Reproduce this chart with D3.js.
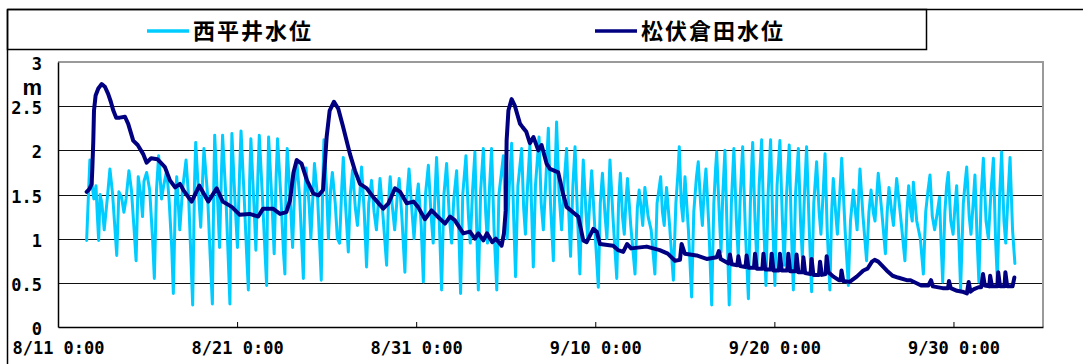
<!DOCTYPE html>
<html>
<head>
<meta charset="utf-8">
<script src="https://cdn.jsdelivr.net/npm/d3@7"></script>
<style>
  body { margin: 0; background: #fff; }
  svg { display: block; }
</style>
</head>
<body>
<svg id="chart" width="1083" height="364"></svg>
<script>
// ---- data ----------------------------------------------------------------
const seriesNames = ["西平井水位", "松伏倉田水位"];
const startDate = new Date(2007, 7, 11, 0, 0);   // 8/11 0:00
const spanDays = 55;

const yTicks = [0, 0.5, 1, 1.5, 2, 2.5, 3];
const yTickLabels = ["0", "0.5", "1", "1.5", "2", "2.5", "3"];
const xTickDays = [0, 10, 20, 30, 40, 50];
const xTickLabels = ["8/11 0:00", "8/21 0:00", "8/31 0:00", "9/10 0:00", "9/20 0:00", "9/30 0:00"];
const unitLabel = "m";

// 西平井 water level (tidal) [days since 8/11 0:00, m]
const nishihiraiLevel = [
  [1.60,0.98],[1.70,1.50],[1.78,1.89],[1.90,1.62],[2.00,1.45],[2.12,1.60],[2.20,1.25],
  [2.27,0.98],[2.35,1.50],[2.45,1.40],[2.58,1.10],[2.75,1.45],[2.90,1.79],[3.05,1.50],[3.15,1.20],
  [3.28,0.81],[3.40,1.53],[3.55,1.47],[3.68,1.30],[3.80,1.45],[3.96,1.77],[4.10,1.55],[4.25,1.10],
  [4.36,0.75],[4.48,1.70],[4.62,1.50],[4.72,1.25],[4.80,1.65],[4.95,1.75],[5.12,1.55],[5.28,1.00],
  [5.38,0.55],[5.50,1.55],[5.62,1.94],[5.78,1.45],[5.90,1.60],[6.07,1.77],[6.20,1.45],[6.35,0.90],
  [6.44,0.38],[6.55,1.40],[6.63,1.70],[6.80,1.10],[6.95,1.55],[7.15,1.89],[7.30,1.45],[7.42,0.80],
  [7.52,0.25],[7.62,1.60],[7.69,2.09],[7.85,1.50],[7.97,1.13],[8.08,1.70],[8.15,2.02],[8.35,1.50],[8.52,0.70],
  [8.62,0.26],[8.70,1.60],[8.75,2.17],[8.92,1.40],[9.02,0.90],[9.12,1.70],[9.19,2.17],[9.38,1.45],[9.52,0.70],
  [9.60,0.26],[9.66,1.60],[9.71,2.19],[9.90,1.35],[10.02,0.90],[10.14,1.75],[10.22,2.22],[10.40,1.45],[10.55,0.75],
  [10.63,0.42],[10.70,1.65],[10.77,2.13],[10.95,1.35],[11.05,0.87],[11.16,1.70],[11.24,2.17],[11.42,1.45],[11.57,0.80],
  [11.65,0.47],[11.71,1.65],[11.76,2.15],[11.95,1.40],[12.07,0.83],[12.18,1.70],[12.26,2.13],[12.45,1.45],[12.59,0.85],
  [12.67,0.60],[12.73,1.60],[12.80,2.02],[12.98,1.40],[13.10,0.90],[13.22,1.60],[13.33,1.89],[13.50,1.45],[13.62,0.90],
  [13.70,0.55],[13.78,1.50],[13.85,1.80],[14.02,1.40],[14.12,1.00],[14.25,1.55],[14.32,1.85],[14.50,1.45],[14.62,0.90],
  [14.70,0.53],[14.78,1.60],[14.85,2.12],[15.00,1.55],[15.10,1.00],[15.22,1.55],[15.32,1.75],[15.48,1.40],[15.60,1.00],
  [15.72,0.95],[15.85,1.60],[15.93,1.92],[16.05,1.40],[16.21,0.85],[16.32,1.50],[16.45,1.78],[16.60,1.35],
  [16.72,1.15],[16.85,1.50],[16.95,1.81],[17.10,1.30],[17.23,0.68],[17.35,1.40],[17.51,1.66],[17.65,1.30],
  [17.78,1.10],[17.90,1.45],[17.98,1.68],[18.15,1.25],[18.35,0.70],[18.45,1.40],[18.55,1.70],[18.65,1.40],
  [18.80,1.10],[18.95,1.50],[19.05,1.68],[19.20,1.25],[19.37,0.62],[19.48,1.45],[19.60,1.79],[19.75,1.35],
  [19.88,1.00],[20.02,1.45],[20.12,1.62],[20.28,1.15],[20.40,0.51],[20.52,1.50],[20.68,1.83],[20.82,1.30],
  [20.95,0.95],[21.05,1.50],[21.14,1.92],[21.28,1.25],[21.42,0.42],[21.55,1.50],[21.70,1.85],[21.85,1.25],
  [21.98,0.95],[22.10,1.45],[22.26,1.77],[22.38,1.10],[22.48,0.38],[22.60,1.50],[22.78,1.94],[22.92,1.25],
  [23.02,0.95],[23.15,1.55],[23.28,1.98],[23.38,1.10],[23.47,0.42],[23.60,1.55],[23.75,2.02],[23.88,1.30],
  [23.98,0.95],[24.10,1.60],[24.21,2.02],[24.35,1.10],[24.50,0.42],[24.62,1.50],[24.87,1.94],[24.98,1.30],
  [25.08,1.00],[25.20,1.60],[25.33,2.08],[25.45,1.20],[25.55,0.57],[25.68,1.60],[25.89,2.02],[26.00,1.35],
  [26.10,1.05],[26.22,1.60],[26.35,2.06],[26.45,1.30],[26.54,0.68],[26.66,1.60],[26.86,2.15],[26.98,1.40],
  [27.10,1.10],[27.25,1.70],[27.38,2.25],[27.50,1.40],[27.66,0.75],[27.75,1.70],[27.84,2.32],[27.98,1.50],
  [28.12,1.10],[28.25,1.60],[28.40,2.02],[28.52,1.30],[28.62,0.80],[28.75,1.60],[28.87,2.04],[29.00,1.30],
  [29.14,0.60],[29.25,1.45],[29.33,1.89],[29.48,1.30],[29.58,1.00],[29.70,1.45],[29.80,1.77],[29.98,1.10],
  [30.17,0.45],[30.28,1.40],[30.40,1.74],[30.55,1.25],[30.65,1.00],[30.75,1.50],[30.82,1.89],[31.00,1.20],
  [31.20,0.55],[31.30,1.40],[31.40,1.74],[31.52,1.25],[31.62,1.05],[31.72,1.45],[31.80,1.68],[31.98,1.15],
  [32.22,0.60],[32.35,1.35],[32.45,1.55],[32.58,1.30],[32.65,1.15],[32.72,1.40],[32.77,1.58],[32.95,1.25],
  [33.12,1.10],[33.33,0.60],[33.45,1.40],[33.65,1.70],[33.75,1.30],[33.85,1.15],[33.92,1.40],[33.98,1.58],
  [34.15,1.15],[34.36,0.53],[34.50,1.40],[34.62,1.75],[34.69,2.04],[34.80,1.40],[34.90,1.20],[34.96,1.50],
  [35.01,1.70],[35.20,1.10],[35.38,0.34],[35.50,1.30],[35.65,1.70],[35.75,1.87],[35.88,1.40],[35.98,1.15],
  [36.08,1.55],[36.18,1.79],[36.35,1.10],[36.50,0.25],[36.62,1.40],[36.72,1.80],[36.78,1.98],[36.92,1.30],
  [37.02,0.85],[37.12,1.50],[37.24,2.00],[37.36,1.10],[37.48,0.25],[37.60,1.40],[37.70,1.85],[37.74,2.02],
  [37.88,1.20],[37.98,0.80],[38.10,1.50],[38.23,2.04],[38.38,1.10],[38.55,0.32],[38.66,1.40],[38.75,1.90],
  [38.79,2.09],[38.92,1.20],[39.03,0.70],[39.15,1.60],[39.29,2.12],[39.42,1.10],[39.53,0.47],[39.65,1.50],
  [39.75,1.95],[39.79,2.12],[39.92,1.10],[40.03,0.47],[40.15,1.60],[40.31,2.11],[40.45,1.20],[40.55,0.70],
  [40.68,1.50],[40.83,2.06],[40.95,1.10],[41.06,0.42],[41.18,1.50],[41.34,2.02],[41.46,1.20],[41.56,0.80],
  [41.68,1.50],[41.80,2.04],[41.95,1.10],[42.08,0.40],[42.20,1.40],[42.36,1.87],[42.50,1.30],[42.60,1.05],
  [42.72,1.50],[42.83,1.96],[42.95,1.10],[43.10,0.42],[43.20,1.30],[43.29,1.68],[43.42,1.30],[43.52,1.05],
  [43.65,1.50],[43.76,1.91],[43.95,1.10],[44.13,0.47],[44.25,1.20],[44.41,1.55],[44.55,1.25],[44.62,1.10],
  [44.70,1.45],[44.78,1.79],[44.95,1.25],[45.15,0.75],[45.28,1.30],[45.40,1.55],[45.52,1.30],[45.62,1.20],
  [45.72,1.50],[45.80,1.74],[46.00,1.30],[46.20,0.83],[46.30,1.30],[46.40,1.58],[46.55,1.30],[46.65,1.15],
  [46.75,1.45],[46.83,1.68],[47.05,1.25],[47.29,0.75],[47.40,1.30],[47.50,1.60],[47.62,1.30],[47.70,1.20],
  [47.76,1.64],[47.95,1.20],[48.15,1.00],[48.32,0.60],[48.45,1.30],[48.58,1.55],[48.69,1.72],[48.82,1.25],
  [48.95,1.10],[49.10,1.30],[49.22,1.47],[49.30,1.00],[49.40,0.51],[49.52,1.30],[49.62,1.60],[49.71,1.75],
  [49.85,1.20],[49.98,1.05],[50.08,1.35],[50.18,1.60],[50.30,1.00],[50.40,0.43],[50.55,1.40],[50.66,1.65],
  [50.74,1.81],[50.88,1.25],[50.98,1.05],[51.10,1.40],[51.20,1.72],[51.32,1.00],[51.42,0.51],[51.55,1.50],
  [51.67,1.91],[51.82,1.20],[51.95,1.00],[52.10,1.55],[52.23,1.91],[52.35,1.00],[52.45,0.53],[52.58,1.50],
  [52.69,1.98],[52.82,1.20],[52.92,0.95],[53.05,1.50],[53.16,1.92],[53.30,1.10],[53.43,0.72]
];

// 松伏倉田 water level [days since 8/11 0:00, m]
const matsubushiLevel = [
  [1.60,1.53],[1.75,1.56],[1.88,1.62],[1.92,1.81],[1.97,2.10],[2.01,2.45],[2.10,2.62],[2.25,2.70],
  [2.44,2.75],[2.62,2.72],[2.80,2.64],[2.95,2.55],[3.09,2.45],[3.25,2.37],[3.45,2.37],[3.74,2.38],
  [3.92,2.30],[4.20,2.11],[4.45,2.06],[4.75,1.96],[4.95,1.86],[5.20,1.91],[5.55,1.90],[5.97,1.81],
  [6.25,1.66],[6.54,1.58],[6.81,1.62],[7.00,1.55],[7.46,1.42],[7.89,1.60],[8.39,1.42],[8.86,1.57],
  [9.20,1.42],[9.70,1.36],[10.15,1.27],[10.70,1.28],[11.18,1.25],[11.45,1.34],[12.00,1.34],[12.40,1.28],
  [12.75,1.30],[12.95,1.43],[13.15,1.75],[13.33,1.89],[13.60,1.85],[13.90,1.66],[14.26,1.51],[14.55,1.49],
  [14.80,1.55],[15.00,2.15],[15.17,2.45],[15.41,2.55],[15.65,2.47],[15.90,2.28],[16.15,2.08],[16.30,1.96],
  [16.58,1.77],[16.86,1.62],[17.24,1.57],[17.60,1.47],[18.16,1.34],[18.45,1.40],[18.82,1.57],[19.10,1.53],
  [19.47,1.40],[19.85,1.42],[20.10,1.36],[20.49,1.22],[20.86,1.32],[21.15,1.26],[21.61,1.17],[21.89,1.25],
  [22.15,1.21],[22.63,1.06],[23.00,1.08],[23.28,1.00],[23.47,1.06],[23.75,0.98],[23.95,1.06],[24.25,0.96],
  [24.45,1.00],[24.77,0.92],[24.90,1.06],[25.00,1.32],[25.05,2.11],[25.15,2.45],[25.33,2.58],[25.50,2.51],
  [25.80,2.30],[25.95,2.26],[26.15,2.21],[26.35,2.08],[26.55,2.15],[26.82,2.00],[27.00,2.06],[27.28,1.85],
  [27.47,1.79],[27.93,1.75],[28.20,1.51],[28.40,1.36],[28.75,1.30],[29.05,1.25],[29.33,0.98],[29.52,0.96],
  [29.89,1.11],[30.08,1.08],[30.26,0.94],[31.00,0.92],[31.28,0.87],[31.56,0.85],[31.78,0.94],[32.00,0.89],
  [32.87,0.91],[33.60,0.87],[34.05,0.83],[34.45,0.75],[34.73,0.76],[34.82,0.94],[35.00,0.83],[35.66,0.81],
  [36.22,0.77],[36.78,0.79],[36.90,0.86],[37.00,0.77],
  [37.45,0.72],[37.52,0.82],[37.62,0.71],[37.93,0.70],[37.99,0.80],[38.09,0.69],
  [38.39,0.68],[38.45,0.81],[38.55,0.67],[38.86,0.67],[38.92,0.83],[39.02,0.66],
  [39.33,0.66],[39.39,0.83],[39.49,0.65],[39.79,0.65],[39.85,0.83],[39.95,0.64],
  [40.25,0.64],[40.31,0.83],[40.41,0.64],[40.72,0.64],[40.78,0.83],[40.88,0.63],
  [41.18,0.63],[41.24,0.82],[41.34,0.62],[41.56,0.62],[41.62,0.79],[41.72,0.61],
  [42.02,0.60],[42.08,0.77],[42.18,0.59],[42.49,0.59],[42.55,0.74],[42.65,0.59],
  [42.86,0.60],[42.92,0.80],[43.02,0.62],[43.30,0.57],[43.60,0.53],[43.70,0.53],
  [43.75,0.64],[43.85,0.52],[44.20,0.51],[44.60,0.57],[44.97,0.64],[45.20,0.66],
  [45.45,0.74],[45.60,0.76],[45.80,0.74],[46.27,0.64],[46.60,0.58],[46.90,0.56],
  [47.39,0.53],[47.60,0.53],[48.20,0.47],[48.60,0.47],[48.75,0.53],[48.85,0.46],
  [49.40,0.44],[49.70,0.44],[49.75,0.52],[49.85,0.44],[50.20,0.41],[50.50,0.40],
  [50.75,0.38],[50.85,0.51],[50.95,0.40],[51.15,0.43],[51.40,0.45],[51.55,0.45],
  [51.65,0.60],[51.75,0.47],[52.00,0.46],[52.05,0.58],[52.15,0.46],[52.45,0.46],
  [52.50,0.62],[52.60,0.46],[52.85,0.46],[52.90,0.62],[53.00,0.46],[53.30,0.46],[53.40,0.56]
];

// ---- layout ---------------------------------------------------------------
const svg = d3.select("#chart");
const plot = { left: 58, top: 62, right: 1043, bottom: 327 };
const dayMs = 864e5;
const toDate = d => new Date(startDate.getTime() + d * dayMs);

const x = d3.scaleTime()
  .domain([startDate, toDate(spanDays)])
  .range([plot.left, plot.right]);
const y = d3.scaleLinear().domain([0, 3]).range([plot.bottom, plot.top]);

const numFont = "'DejaVu Sans Mono', monospace";
const jpFont = "'Noto Sans CJK JP', sans-serif";

// outer chart frame (top and left edges)
svg.append("line").attr("x1", 7.5).attr("x2", 1083).attr("y1", 9.5).attr("y2", 9.5)
  .attr("stroke", "#000").attr("stroke-width", 1.5);
svg.append("line").attr("x1", 7.5).attr("x2", 7.5).attr("y1", 9.5).attr("y2", 364)
  .attr("stroke", "#000").attr("stroke-width", 1.5);

// legend box
svg.append("rect").attr("x", 7.5).attr("y", 9.5).attr("width", 919).attr("height", 40)
  .attr("fill", "none").attr("stroke", "#000").attr("stroke-width", 1.5);

// gridlines
svg.append("g").selectAll("line").data(yTicks.filter(v => v > 0 && v < 3)).join("line")
  .attr("x1", plot.left).attr("x2", plot.right)
  .attr("y1", d => Math.round(y(d)) + 0.5).attr("y2", d => Math.round(y(d)) + 0.5)
  .attr("stroke", "#111").attr("stroke-width", 1);

// plot border (top/right lighter)
svg.append("path")
  .attr("d", `M${plot.left},${plot.top}H${plot.right}V${plot.bottom}`)
  .attr("fill", "none").attr("stroke", "#9a9a9a").attr("stroke-width", 2);

// x axis
const xAxis = d3.axisBottom(x)
  .tickValues(xTickDays.map(toDate))
  .tickFormat((d, i) => xTickLabels[i])
  .tickSizeInner(-5).tickSizeOuter(0).tickPadding(15);
const gx = svg.append("g").attr("transform", `translate(0,${plot.bottom})`).call(xAxis);
gx.select(".domain").attr("stroke", "#000").attr("stroke-width", 1.5);
gx.selectAll(".tick line").attr("stroke", "#000");
gx.selectAll("text").attr("font-family", numFont).attr("font-weight", "bold")
  .attr("font-size", 17).attr("fill", "#000");

// y axis
const yAxis = d3.axisLeft(y).tickValues(yTicks)
  .tickFormat((d, i) => yTickLabels[i]).tickSize(0).tickPadding(16);
const gy = svg.append("g").attr("transform", `translate(${plot.left},0)`).call(yAxis);
gy.select(".domain").attr("stroke", "#000").attr("stroke-width", 1.5);
gy.selectAll("text").attr("font-family", numFont).attr("font-weight", "bold")
  .attr("font-size", 17).attr("fill", "#000").attr("dy", "0.45em");

// unit label
svg.append("text").attr("x", 42).attr("y", 95).attr("text-anchor", "end")
  .attr("font-family", "'Liberation Sans', Arial, sans-serif").attr("font-weight", "bold")
  .attr("font-size", 22).text(unitLabel);

// series lines
const line = d3.line().x(d => x(toDate(d[0]))).y(d => y(d[1])).curve(d3.curveLinear);
const series = [
  { name: seriesNames[0], values: nishihiraiLevel, color: "#00ccff", width: 3 },
  { name: seriesNames[1], values: matsubushiLevel, color: "#000080", width: 4 }
];
svg.append("g").selectAll("path").data(series).join("path")
  .attr("d", d => line(d.values))
  .attr("fill", "none").attr("stroke", d => d.color).attr("stroke-width", d => d.width)
  .attr("stroke-linejoin", "round").attr("stroke-linecap", "round");

// legend entries
const legendPos = [{ lx: 147, tx: 193 }, { lx: 595, tx: 641 }];
const lg = svg.append("g").selectAll("g").data(series).join("g");
lg.append("line")
  .attr("x1", (d, i) => legendPos[i].lx).attr("x2", (d, i) => legendPos[i].lx + 42)
  .attr("y1", 31).attr("y2", 31)
  .attr("stroke", d => d.color).attr("stroke-width", 3.5);
lg.append("text")
  .attr("x", (d, i) => legendPos[i].tx).attr("y", 39)
  .attr("font-family", jpFont).attr("font-weight", "bold").attr("font-size", 22)
  .attr("letter-spacing", 2).attr("fill", "#000")
  .text(d => d.name);
</script>
</body>
</html>
